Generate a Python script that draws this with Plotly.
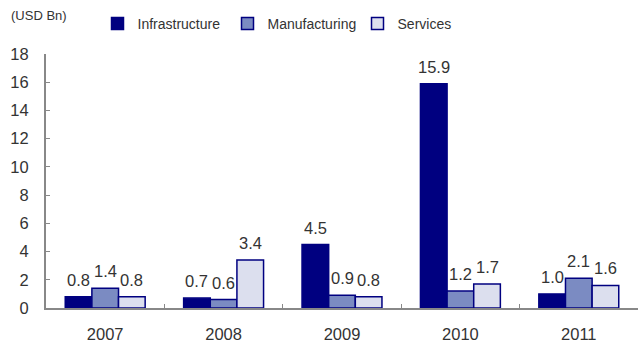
import plotly.graph_objects as go

years = ["2007", "2008", "2009", "2010", "2011"]
infrastructure = [0.8, 0.7, 4.5, 15.9, 1.0]
manufacturing = [1.4, 0.6, 0.9, 1.2, 2.1]
services = [0.8, 3.4, 0.8, 1.7, 1.6]

series = [
    ("Infrastructure", infrastructure, "#000080"),
    ("Manufacturing", manufacturing, "#7b8bc2"),
    ("Services", services, "#dcdfee"),
]

FONT = "Liberation Sans, Arial, sans-serif"
TEXT = "#333333"
NUM_SIZE = 16.5

W, H = 640, 347
MARGIN = dict(l=46, r=2, t=54, b=39)
BARGAP = 0.325

fig = go.Figure()
for name, vals, color in series:
    fig.add_trace(go.Bar(
        name=name,
        x=years,
        y=vals,
        marker=dict(color=color, line=dict(color="#000080", width=1.5)),
        cliponaxis=False,
    ))

# value labels above each bar, offset sideways by one bar width per series;
# on a category axis annotations are placed by category index
plot_w = W - MARGIN["l"] - MARGIN["r"]
bar_px = plot_w / len(years) * (1 - BARGAP) / len(series)
labels = []
for i, (name, vals, color) in enumerate(series):
    dx = (i - (len(series) - 1) / 2) * bar_px
    for j, v in enumerate(vals):
        labels.append(dict(
            x=j, y=v, xref="x", yref="y", text=f"{v:.1f}",
            showarrow=False, xanchor="center", yanchor="bottom",
            xshift=dx, yshift=6,
            font=dict(family=FONT, size=NUM_SIZE, color=TEXT),
        ))

labels.append(dict(
    text="(USD Bn)", xref="paper", yref="paper",
    x=-0.062, y=(H - MARGIN["b"] - 15) / (H - MARGIN["t"] - MARGIN["b"]),
    xanchor="left", yanchor="middle",
    showarrow=False, font=dict(family=FONT, size=13, color=TEXT),
))

fig.update_layout(
    width=W,
    height=H,
    margin=MARGIN,
    paper_bgcolor="white",
    plot_bgcolor="white",
    barmode="group",
    bargap=BARGAP,
    bargroupgap=0,
    font=dict(family=FONT, size=NUM_SIZE, color=TEXT),
    showlegend=True,
    legend=dict(
        orientation="h",
        x=0.087, xanchor="left",
        y=1 - 24 / H, yanchor="middle", yref="container",
        font=dict(family=FONT, size=14, color=TEXT),
        entrywidth=85,
        itemwidth=30,
        bgcolor="rgba(0,0,0,0)",
    ),
    annotations=labels,
)

fig.update_xaxes(
    type="category",
    range=[-0.5, len(years) - 0.5],
    showline=True, linecolor="#888888", linewidth=2,
    ticks="inside", tickson="boundaries", ticklen=4, tickcolor="#888888",
    showgrid=False, tickfont=dict(size=NUM_SIZE),
    ticklabelstandoff=10,
)
fig.update_yaxes(
    range=[0, 18], dtick=2, showline=True, linecolor="#888888", linewidth=2,
    ticks="inside", ticklen=4, tickcolor="#888888", showgrid=False,
    zeroline=False, tickfont=dict(size=NUM_SIZE), ticklabelstandoff=12,
)

fig.write_html("out.html")
